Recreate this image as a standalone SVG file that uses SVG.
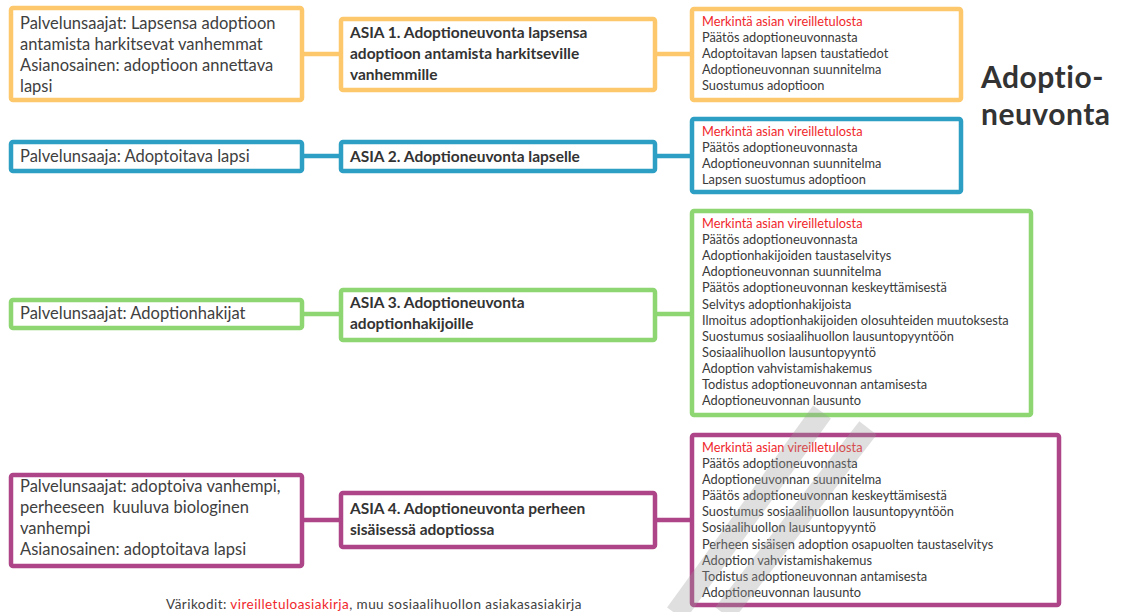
<svg xmlns="http://www.w3.org/2000/svg" width="1133" height="612" viewBox="0 0 1133 612">
  <style>
    .box { fill: #ffffff; stroke-width: 4.5; }
    .c1 { stroke: #FDC86B; }
    .c2 { stroke: #2E9FC4; }
    .c3 { stroke: #8DD672; }
    .c4 { stroke: #AD4588; }
    .link { fill: none; stroke-width: 4.5; }
    .who { font-family: Lato, "Noto Sans", sans-serif; font-size: 16.5px; fill: #404040; }
    .case { font-family: Lato, "Noto Sans", sans-serif; font-size: 15.5px; font-weight: bold; fill: #333333; }
    .doc { font-family: Lato, "Noto Sans", sans-serif; font-size: 12.8px; fill: #3a3a3a; }
    .red { fill: #F0272C; }
    .title { font-family: Lato, "Noto Sans", sans-serif; font-size: 30px; font-weight: bold; fill: #333333; letter-spacing: 0.5px; }
    .legend { font-family: Lato, "Noto Sans", sans-serif; font-size: 13.5px; letter-spacing: 0.45px; fill: #404040; }
  </style>
  <rect width="1133" height="612" fill="#ffffff"/>

  <!-- connectors -->
  <g id="connectors">
    <path class="link c1" d="M302 54H341M655 54H692"/>
    <path class="link c2" d="M302 156H341M655 156H692"/>
    <path class="link c3" d="M302 314H341M655 314H692"/>
    <path class="link c4" d="M302 520H341M655 520H692"/>
  </g>

  <!-- ASIA 1 -->
  <g id="asia1-clients">
    <rect class="box c1" x="11" y="8" width="291" height="92" rx="2"/>
    <text class="who"><tspan x="20" y="29">Palvelunsaajat: Lapsensa adoptioon</tspan><tspan x="20" y="50">antamista harkitsevat vanhemmat</tspan><tspan x="20" y="71">Asianosainen: adoptioon annettava</tspan><tspan x="20" y="92">lapsi</tspan></text>
  </g>
  <g id="asia1-case">
    <rect class="box c1" x="341" y="19" width="314" height="71" rx="2"/>
    <text class="case"><tspan x="350" y="38">ASIA 1. Adoptioneuvonta lapsensa</tspan><tspan x="350" y="59">adoptioon antamista harkitseville</tspan><tspan x="350" y="80">vanhemmille</tspan></text>
  </g>
  <g id="asia1-docs">
    <rect class="box c1" x="692" y="9" width="269" height="91" rx="2"/>
    <text class="doc"><tspan class="red" x="702" y="26">Merkintä asian vireilletulosta</tspan><tspan x="702" y="42">Päätös adoptioneuvonnasta</tspan><tspan x="702" y="58">Adoptoitavan lapsen taustatiedot</tspan><tspan x="702" y="74">Adoptioneuvonnan suunnitelma</tspan><tspan x="702" y="90">Suostumus adoptioon</tspan></text>
  </g>

  <!-- ASIA 2 -->
  <g id="asia2-clients">
    <rect class="box c2" x="11" y="142" width="291" height="29" rx="2"/>
    <text class="who" x="20" y="162">Palvelunsaaja: Adoptoitava lapsi</text>
  </g>
  <g id="asia2-case">
    <rect class="box c2" x="341" y="142" width="314" height="29" rx="2"/>
    <text class="case" x="350" y="162">ASIA 2. Adoptioneuvonta lapselle</text>
  </g>
  <g id="asia2-docs">
    <rect class="box c2" x="692" y="119" width="269" height="73" rx="2"/>
    <text class="doc"><tspan class="red" x="702" y="136">Merkintä asian vireilletulosta</tspan><tspan x="702" y="152">Päätös adoptioneuvonnasta</tspan><tspan x="702" y="168">Adoptioneuvonnan suunnitelma</tspan><tspan x="702" y="184">Lapsen suostumus adoptioon</tspan></text>
  </g>

  <!-- ASIA 3 -->
  <g id="asia3-clients">
    <rect class="box c3" x="11" y="300" width="291" height="28" rx="2"/>
    <text class="who" x="20" y="319">Palvelunsaajat: Adoptionhakijat</text>
  </g>
  <g id="asia3-case">
    <rect class="box c3" x="341" y="290" width="314" height="50" rx="2"/>
    <text class="case"><tspan x="350" y="308">ASIA 3. Adoptioneuvonta</tspan><tspan x="350" y="329">adoptionhakijoille</tspan></text>
  </g>
  <g id="asia3-docs">
    <rect class="box c3" x="692" y="211" width="339" height="204" rx="2"/>
    <text class="doc"><tspan class="red" x="702" y="228">Merkintä asian vireilletulosta</tspan><tspan x="702" y="244">Päätös adoptioneuvonnasta</tspan><tspan x="702" y="260">Adoptionhakijoiden taustaselvitys</tspan><tspan x="702" y="276">Adoptioneuvonnan suunnitelma</tspan><tspan x="702" y="292">Päätös adoptioneuvonnan keskeyttämisestä</tspan><tspan x="702" y="308.5">Selvitys adoptionhakijoista</tspan><tspan x="702" y="324.5">Ilmoitus adoptionhakijoiden olosuhteiden muutoksesta</tspan><tspan x="702" y="340.5">Suostumus sosiaalihuollon lausuntopyyntöön</tspan><tspan x="702" y="356.5">Sosiaalihuollon lausuntopyyntö</tspan><tspan x="702" y="373">Adoption vahvistamishakemus</tspan><tspan x="702" y="389">Todistus adoptioneuvonnan antamisesta</tspan><tspan x="702" y="405">Adoptioneuvonnan lausunto</tspan></text>
  </g>

  <!-- ASIA 4 -->
  <g id="asia4-clients">
    <rect class="box c4" x="11" y="475" width="291" height="91" rx="2"/>
    <text class="who"><tspan x="20" y="492">Palvelunsaajat: adoptoiva vanhempi,</tspan><tspan x="20" y="513" xml:space="preserve">perheeseen  kuuluva biologinen</tspan><tspan x="20" y="534">vanhempi</tspan><tspan x="20" y="555">Asianosainen: adoptoitava lapsi</tspan></text>
  </g>
  <g id="asia4-case">
    <rect class="box c4" x="341" y="493" width="314" height="54" rx="2"/>
    <text class="case"><tspan x="350" y="514">ASIA 4. Adoptioneuvonta perheen</tspan><tspan x="350" y="535">sisäisessä adoptiossa</tspan></text>
  </g>
  <g id="asia4-docs">
    <rect class="box c4" x="692" y="435" width="367" height="170" rx="2"/>
    <text class="doc"><tspan class="red" x="702" y="452">Merkintä asian vireilletulosta</tspan><tspan x="702" y="468">Päätös adoptioneuvonnasta</tspan><tspan x="702" y="484">Adoptioneuvonnan suunnitelma</tspan><tspan x="702" y="500">Päätös adoptioneuvonnan keskeyttämisestä</tspan><tspan x="702" y="516">Suostumus sosiaalihuollon lausuntopyyntöön</tspan><tspan x="702" y="532">Sosiaalihuollon lausuntopyyntö</tspan><tspan x="702" y="549">Perheen sisäisen adoption osapuolten taustaselvitys</tspan><tspan x="702" y="565">Adoption vahvistamishakemus</tspan><tspan x="702" y="581">Todistus adoptioneuvonnan antamisesta</tspan><tspan x="702" y="597">Adoptioneuvonnan lausunto</tspan></text>
  </g>

  <!-- heading -->
  <g id="title">
    <text class="title" x="981" y="88">Adoptio-</text>
    <text class="title" x="981" y="125" letter-spacing="1">neuvonta</text>
  </g>

  <!-- colour key -->
  <g id="legend">
    <text class="legend" x="166" y="609">Värikodit: <tspan class="red">vireilletuloasiakirja</tspan>, muu sosiaalihuollon asiakasasiakirja</text>
  </g>

  <!-- faint diagonal watermark strokes -->
  <g id="watermark" fill="none" stroke="#9a9a9a" stroke-opacity="0.32" stroke-width="22">
    <path d="M822 412L676 614"/>
    <path d="M868 428L724 614"/>
  </g>
</svg>
